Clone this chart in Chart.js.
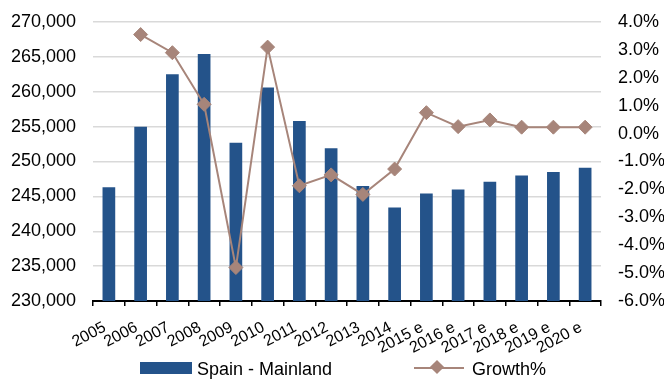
<!DOCTYPE html>
<html>
<head>
<meta charset="utf-8">
<script src="https://cdn.jsdelivr.net/npm/chart.js@4/dist/chart.umd.min.js"></script>
<style>
    html, body { margin: 0; padding: 0; background: #fff; }
    #wrap { position: relative; width: 664px; height: 379px; }
    #legend { position: absolute; left: 0; top: 359px; width: 664px; height: 20px; font-family: "Liberation Sans", Arial, sans-serif; font-size: 18px; color: #000; }
    .item { position: absolute; top: 0; height: 20px; line-height: 20px; white-space: nowrap; }
    .swatch { position: absolute; left: 0; top: 3px; width: 52px; height: 12px; background: #24538a; }
    .ln { position: absolute; left: 0; top: 8px; width: 50px; height: 2px; background: #a7857a; }
    .dia { position: absolute; left: 18px; top: 3px; width: 10px; height: 10px; background: #a7857a; transform: rotate(45deg); }
</style>
</head>
<body>
<div id="wrap">
    <canvas id="myChart" width="664" height="379"></canvas>
    <div id="legend">
        <div class="item" style="left:140px"><span class="swatch"></span><span style="margin-left:57px">Spain - Mainland</span></div>
        <div class="item" style="left:414px"><span class="ln"></span><span class="dia"></span><span style="margin-left:58px">Growth%</span></div>
    </div>
</div>
<script>
// 横坐标
var years = ['2005', '2006', '2007', '2008', '2009', '2010', '2011', '2012', '2013', '2014',
    '2015 e', '2016 e', '2017 e', '2018 e', '2019 e', '2020 e']
// 柱状图 (左轴)
var mainland = [246300, 255000, 262500, 265400, 252700, 260600, 255800, 251900, 246500, 243400,
    245400, 246000, 247100, 248000, 248500, 249100]
// 折线 (右轴, %)
var growth = [null, 3.55, 2.9, 1.05, -4.8, 3.1, -1.87, -1.48, -2.18, -1.27,
    0.75, 0.25, 0.49, 0.23, 0.23, 0.23]

var barColor = '#24538a'
var lineColor = '#a7857a'

Chart.defaults.font.family = '"Liberation Sans", Arial, sans-serif'
Chart.defaults.font.size = 18
Chart.defaults.color = '#000'

// 轴宽度固定, 不让刻度 padding 挤占上下空间
function fixWidth(w) {
    return function (scale) {
        scale.width = w
        scale.paddingTop = 11
        scale.paddingBottom = 11
    }
}

var ctx = document.getElementById('myChart').getContext('2d')
var myChart = new Chart(ctx, {
    type: 'bar',
    data: {
        labels: years,
        datasets: [
            {
                type: 'line',
                label: 'Growth%',
                data: growth,
                yAxisID: 'y1',
                order: 1,
                borderColor: lineColor,
                backgroundColor: lineColor,
                borderWidth: 2,
                pointStyle: 'rectRot',
                pointRadius: 7,
                pointBorderWidth: 1,
                lineTension: 0,
                spanGaps: true
            },
            {
                label: 'Spain - Mainland',
                data: mainland,
                yAxisID: 'y',
                order: 2,
                backgroundColor: barColor,
                barPercentage: 0.8,
                categoryPercentage: 0.5
            }
        ]
    },
    options: {
        responsive: false,
        animation: false,
        layout: { autoPadding: false, padding: { top: 22, right: 0, left: 0, bottom: 0 } },
        plugins: {
            legend: { display: false },
            tooltip: { enabled: false }
        },
        scales: {
            x: {
                afterFit: function (scale) { scale.height = 78 },
                border: { display: true, color: '#000', width: 2 },
                grid: { display: true, drawOnChartArea: false, drawTicks: true, tickLength: 5, color: '#000', lineWidth: 1.5 },
                ticks: { minRotation: 28, maxRotation: 28, padding: 12, labelOffset: -4, autoSkip: false, font: { size: 16 } }
            },
            y: {
                position: 'left',
                min: 230000,
                max: 270000,
                afterFit: fixWidth(93),
                border: { display: false },
                grid: { color: '#d9d9d9', lineWidth: 1.5, drawTicks: false },
                ticks: {
                    stepSize: 5000,
                    padding: 17,
                    callback: function (v) { return v.toLocaleString('en-US') }
                }
            },
            y1: {
                position: 'right',
                min: -6,
                max: 4,
                afterFit: fixWidth(63),
                border: { display: false },
                grid: { display: false, drawTicks: false },
                ticks: {
                    stepSize: 1,
                    padding: 17,
                    callback: function (v) { return v.toFixed(1) + '%' }
                }
            }
        }
    }
})
</script>
</body>
</html>
